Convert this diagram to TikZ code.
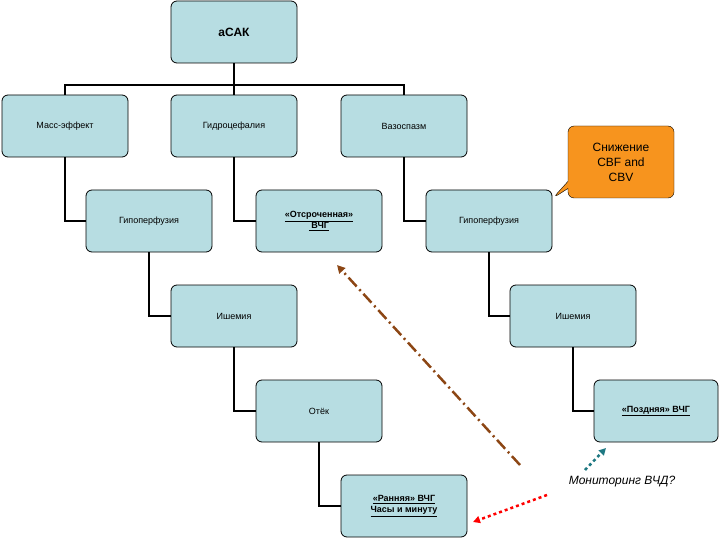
\documentclass[tikz,border=0pt]{standalone}
\usepackage{fontspec}
\setmainfont{Liberation Sans}
\usetikzlibrary{arrows.meta,shapes.callouts}
\definecolor{boxc}{RGB}{183,221,226}
\definecolor{orangec}{RGB}{247,148,30}
\definecolor{brownc}{RGB}{140,70,20}
\definecolor{tealc}{RGB}{30,120,130}
\begin{document}
\begin{tikzpicture}[x=1pt,y=-1pt,
 box/.style={draw,thick,fill=boxc,rounded corners=6pt,minimum width=126pt,minimum height=62pt,align=center,font=\fontsize{9}{11}\selectfont},
 ln/.style={line width=1.8pt}]
\useasboundingbox (0,0) rectangle (720,540);
\node[box,font=\bfseries\fontsize{12}{14}\selectfont] (a) at (234,32) {аСАК};
\node[box] (m) at (65,126) {Масс-эффект};
\node[box] (g) at (234,126) {Гидроцефалия};
\node[box] (v) at (404,126) {Вазоспазм};
\node[box] (h1) at (149,221) {Гипоперфузия};
\node[box,font=\bfseries\fontsize{9}{11}\selectfont] (o) at (319,221) {\underline{«Отсроченная»}\\\underline{\ ВЧГ}};
\node[box] (h2) at (489,221) {Гипоперфузия};
\node[box] (i1) at (234,316) {Ишемия};
\node[box] (i2) at (573,316) {Ишемия};
\node[box] (e) at (319,411) {Отёк};
\node[box,font=\bfseries\fontsize{9}{11}\selectfont,minimum width=124pt] (p) at (656,411) {\underline{«Поздняя» ВЧГ}};
\node[box,font=\bfseries\fontsize{9}{11}\selectfont] (r) at (404,506) {\underline{«Ранняя» ВЧГ}\\\underline{Часы и минуту}};
\node[rectangle callout,draw,fill=orangec,rounded corners=6pt,minimum width=106pt,minimum height=72pt,align=center,font=\fontsize{12}{15}\selectfont,callout absolute pointer={(553,198)}] (c) at (621,162) {Снижение\\CBF and\\CBV};
\node[font=\itshape\fontsize{12}{14}\selectfont] (t) at (622,482) {Мониторинг ВЧД?};
\coordinate (bar) at (234,85);
\draw[ln] (a.south) -- (bar);
\draw[ln] (m.north) |- (bar) -| (v.north);
\draw[ln] (bar) -- (g.north);
\draw[ln] (m.south) |- (h1.west);
\draw[ln] (g.south) |- (o.west);
\draw[ln] (v.south) |- (h2.west);
\draw[ln] (h1.south) |- (i1.west);
\draw[ln] (h2.south) |- (i2.west);
\draw[ln] (i1.south) |- (e.west);
\draw[ln] (i2.south) |- (p.west);
\draw[ln] (e.south) |- (r.west);
\coordinate (b1) at (520,465); \coordinate (b2) at (337,265);
\draw[brownc,line width=2.5pt,dash pattern=on 12pt off 4pt on 2pt off 4pt,-{Triangle[length=8pt,width=8pt]}] (b1) -- (b2);
\coordinate (t1) at (585,470); \coordinate (t2) at (606,448);
\draw[tealc,line width=2.5pt,dashed,-{Triangle[length=7pt,width=7pt]}] (t1) -- (t2);
\coordinate (q1) at (547,495); \coordinate (q2) at (473,522);
\draw[red,line width=2.5pt,dashed,-{Triangle[length=7pt,width=7pt]}] (q1) -- (q2);
\end{tikzpicture}
\end{document}
